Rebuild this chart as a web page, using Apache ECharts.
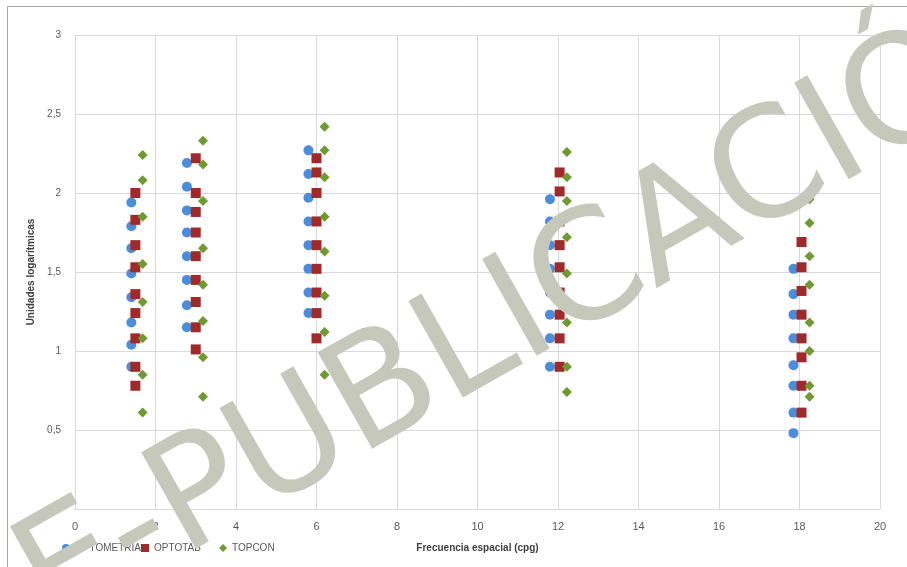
<!DOCTYPE html>
<html>
<head>
<meta charset="utf-8">
<script src="https://cdn.jsdelivr.net/npm/echarts@6/dist/echarts.min.js"></script>
<style>html,body{margin:0;padding:0;background:#fff}#c{width:907px;height:567px}</style>
</head>
<body>
<div id="c"></div>
<script>
// ---- data ----
var seriesNames = ['OPTOMETRÍA', 'OPTOTAB', 'TOPCON'];
var xTicks = [0, 2, 4, 6, 8, 10, 12, 14, 16, 18, 20];
var yTicks = ['0', '0,5', '1', '1,5', '2', '2,5', '3'];

var optomFreq = [1.4, 2.78, 5.8, 11.8, 17.85];
var optomVals = [
  [1.94, 1.79, 1.65, 1.49, 1.34, 1.18, 1.04, 0.90],
  [2.19, 2.04, 1.89, 1.75, 1.60, 1.45, 1.29, 1.15],
  [2.27, 2.12, 1.97, 1.82, 1.67, 1.52, 1.37, 1.24],
  [1.96, 1.82, 1.67, 1.52, 1.37, 1.23, 1.08, 0.90],
  [1.52, 1.36, 1.23, 1.08, 0.91, 0.78, 0.61, 0.48]
];
var optotFreq = [1.5, 3.0, 6.0, 12.04, 18.05];
var optotVals = [
  [2.00, 1.83, 1.67, 1.53, 1.36, 1.24, 1.08, 0.90, 0.78],
  [2.22, 2.00, 1.88, 1.75, 1.60, 1.45, 1.31, 1.15, 1.01],
  [2.22, 2.13, 2.00, 1.82, 1.67, 1.52, 1.37, 1.24, 1.08],
  [2.13, 2.01, 1.82, 1.67, 1.53, 1.37, 1.23, 1.08, 0.90],
  [1.69, 1.53, 1.38, 1.23, 1.08, 0.96, 0.78, 0.61]
];
var topconFreq = [1.68, 3.18, 6.2, 12.22, 18.25];
var topconVals = [
  [2.24, 2.08, 1.85, 1.55, 1.31, 1.08, 0.85, 0.61],
  [2.33, 2.18, 1.95, 1.65, 1.42, 1.19, 0.96, 0.71],
  [2.42, 2.27, 2.10, 1.85, 1.63, 1.35, 1.12, 0.85],
  [2.26, 2.10, 1.95, 1.72, 1.49, 1.18, 0.90, 0.74],
  [1.96, 1.81, 1.60, 1.42, 1.18, 1.00, 0.78, 0.71]
];

function pairs(freq, vals) {
  var out = [];
  for (var i = 0; i < freq.length; i++) {
    for (var j = 0; j < vals[i].length; j++) out.push([freq[i], vals[i][j]]);
  }
  return out;
}

var FONT = "'Liberation Sans', Arial, sans-serif";
var colors = ['#4a8ddd', '#a02a2a', '#6f9a32'];
var symbols = ['circle', 'rect', 'diamond'];
var sizes = [10, 10, 10];
var dataSets = [pairs(optomFreq, optomVals), pairs(optotFreq, optotVals), pairs(topconFreq, topconVals)];
var legendLeft = [62, 141, 219];

var chart = echarts.init(document.getElementById('c'), null, {renderer: 'canvas'});
var option = {
  backgroundColor: '#ffffff',
  animation: false,
  textStyle: {fontFamily: FONT},
  grid: {left: 75, right: 27, top: 35, bottom: 58, containLabel: false},
  legend: seriesNames.map(function (n, i) {
    return {
      data: [n], left: legendLeft[i], top: 543, itemWidth: 8, itemHeight: 8, itemGap: 4,
      textStyle: {fontFamily: FONT, fontSize: 10, color: '#595959'}, padding: 0
    };
  }),
  xAxis: {
    type: 'value', min: 0, max: 20, interval: 2,
    name: 'Frecuencia espacial (cpg)', nameLocation: 'middle', nameGap: 34,
    nameTextStyle: {fontFamily: FONT, fontSize: 10, fontWeight: 'bold', color: '#404040'},
    axisLine: {show: true, lineStyle: {color: '#d9d9d9'}},
    axisTick: {show: false},
    axisLabel: {fontSize: 11, color: '#595959', margin: 12},
    splitLine: {show: true, lineStyle: {color: '#d9d9d9'}}
  },
  yAxis: {
    type: 'value', min: 0, max: 3, interval: 0.5,
    name: 'Unidades logarítmicas', nameLocation: 'middle', nameGap: 37,
    nameTextStyle: {fontFamily: FONT, fontSize: 10, fontWeight: 'bold', color: '#404040'},
    axisLine: {show: false},
    axisTick: {show: false},
    axisLabel: {fontSize: 10, color: '#595959', margin: 14,
      formatter: function (v) { return yTicks[Math.round(v * 2)]; }},
    splitLine: {show: true, lineStyle: {color: '#d9d9d9'}}
  },
  series: seriesNames.map(function (n, i) {
    return {
      name: n, type: 'scatter', data: dataSets[i], symbol: symbols[i], symbolSize: sizes[i],
      itemStyle: {color: colors[i], opacity: 1}, z: 2 + i
    };
  }),
  graphic: [
    {type: 'rect', shape: {x: 7.5, y: 6.5, width: 920, height: 600}, style: {fill: 'none', stroke: '#a6a6a6', lineWidth: 1}, z: 50, silent: true},
    {type: 'text', x: 32, y: 596, rotation: 0.515, z: 100, silent: true,
      style: {text: 'E-PUBLICACIÓN', font: "152px 'DejaVu Sans'", fill: '#c6c8bb', align: 'left', verticalAlign: 'middle'}}
  ]
};
chart.setOption(option);
</script>
</body>
</html>
